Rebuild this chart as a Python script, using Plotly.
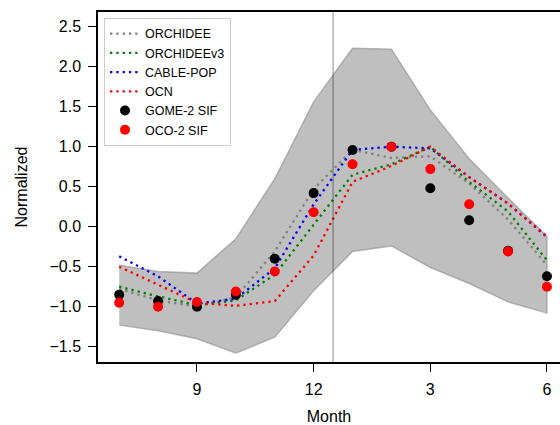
import plotly.graph_objects as go

# Month positions (July .. June)
month_idx = list(range(12))
month_names = ["7", "8", "9", "10", "11", "12", "1", "2", "3", "4", "5", "6"]
tick_idx = [2, 5, 8, 11]
tick_text = ["9", "12", "3", "6"]

orchidee = [-0.78, -0.92, -1.00, -0.88, -0.31, 0.47, 0.96, 0.86, 0.88, 0.54, 0.09, -0.48]
orchidee_v3 = [-0.75, -0.87, -0.98, -0.92, -0.60, 0.02, 0.65, 0.78, 1.00, 0.56, 0.19, -0.42]
cable_pop = [-0.37, -0.62, -0.96, -0.90, -0.52, 0.28, 0.96, 1.00, 0.98, 0.62, 0.29, -0.13]
ocn = [-0.50, -0.72, -0.95, -0.99, -0.93, -0.36, 0.56, 0.76, 1.00, 0.62, 0.29, -0.12]
gome2_sif = [-0.85, -0.93, -1.00, -0.85, -0.40, 0.42, 0.96, 1.00, 0.48, 0.08, -0.30, -0.62]
oco2_sif = [-0.95, -1.00, -0.94, -0.81, -0.56, 0.18, 0.78, 1.00, 0.72, 0.28, -0.31, -0.75]
band_upper = [-0.48, -0.56, -0.58, -0.15, 0.60, 1.56, 2.23, 2.22, 1.46, 0.85, 0.36, -0.12]
band_lower = [-1.23, -1.30, -1.40, -1.58, -1.38, -0.80, -0.31, -0.24, -0.51, -0.71, -0.94, -1.08]

y_ticks = [-1.5, -1.0, -0.5, 0.0, 0.5, 1.0, 1.5, 2.0, 2.5]
y_ticktext = [f"{v:.1f}".replace("-", "\u2212") for v in y_ticks]

FONT = "Liberation Sans, Arial, sans-serif"

fig = go.Figure()

# Shaded range
fig.add_trace(go.Scatter(
    x=month_idx + month_idx[::-1],
    y=band_upper + band_lower[::-1],
    fill="toself", mode="lines",
    fillcolor="rgba(128,128,128,0.5)",
    line=dict(color="rgba(128,128,128,0.5)", width=1.5),
    showlegend=False, hoverinfo="skip",
))

lines = [
    ("ORCHIDEE", orchidee, "#808080"),
    ("ORCHIDEEv3", orchidee_v3, "#008000"),
    ("CABLE-POP", cable_pop, "#0000ff"),
    ("OCN", ocn, "#ff0000"),
]
for name, vals, col in lines:
    fig.add_trace(go.Scatter(
        x=month_idx, y=vals, mode="lines", name=name,
        line=dict(color=col, width=2.3, dash="2.3px,4px"),
    ))

fig.add_trace(go.Scatter(
    x=month_idx, y=gome2_sif, mode="markers", name="GOME-2 SIF",
    marker=dict(color="black", size=10),
))
fig.add_trace(go.Scatter(
    x=month_idx, y=oco2_sif, mode="markers", name="OCO-2 SIF",
    marker=dict(color="red", size=10),
))

# Vertical separator between December and January
fig.add_shape(type="line", x0=5.5, x1=5.5, y0=0, y1=1, xref="x", yref="y domain",
              line=dict(color="rgba(0,0,0,0.45)", width=1), layer="above")

fig.update_layout(
    width=560, height=425,
    margin=dict(l=98, r=0, t=12, b=63),
    paper_bgcolor="white", plot_bgcolor="white",
    font=dict(family=FONT, size=16, color="black"),
    legend=dict(
        x=0.013, y=0.983, xanchor="left", yanchor="top",
        bgcolor="rgba(255,255,255,0.8)", bordercolor="#cccccc", borderwidth=1,
        font=dict(family=FONT, size=12.5, color="black"),
        itemwidth=30,
    ),
    xaxis=dict(
        range=[-0.545, 11.335],
        tickmode="array", tickvals=tick_idx, ticktext=tick_text,
        showgrid=False, zeroline=False,
        showline=True, linecolor="black", linewidth=1.5, mirror=True,
        ticks="outside", ticklen=8, tickwidth=1.3, tickcolor="black",
        ticklabelstandoff=4,
        title=dict(text="Month", standoff=15, font=dict(size=16)),
    ),
    yaxis=dict(
        range=[-1.691, 2.684],
        tickmode="array", tickvals=y_ticks, ticktext=y_ticktext,
        showgrid=False, zeroline=False,
        showline=True, linecolor="black", linewidth=1.5, mirror=False,
        ticks="outside", ticklen=8, tickwidth=1.3, tickcolor="black",
        ticklabelstandoff=4,
        title=dict(text="Normalized", standoff=18, font=dict(size=16)),
    ),
)

fig.write_html("out.html")
